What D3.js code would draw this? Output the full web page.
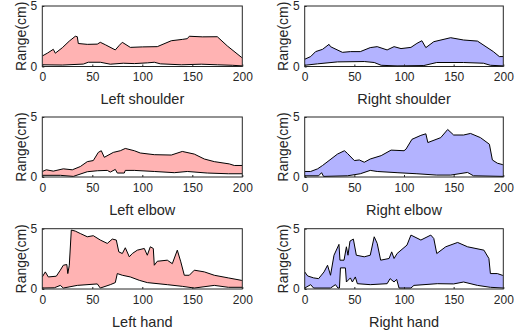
<!DOCTYPE html>
<html>
<head>
<meta charset="utf-8">
<script src="https://cdn.jsdelivr.net/npm/d3@7"></script>
<style>
  html, body { margin: 0; padding: 0; background: #fff; }
  svg { display: block; font-family: "Liberation Sans", Arial, sans-serif; }
</style>
</head>
<body>
<svg id="chart" width="527" height="334"></svg>
<script>
// ---- Data (x = sample index 0..200, y = range in cm) ----
const panelTitles = ["Left shoulder", "Right shoulder", "Left elbow", "Right elbow", "Left hand", "Right hand"];
const xTicks = [0, 50, 100, 150, 200];
const yTicks = [0, 5];

const leftShoulderUpper = [[0,0.87],[5,1.1],[11,1.42],[13,1.1],[20,1.55],[27,2.1],[33,2.5],[35,2.46],[36,1.9],[45,1.83],[55,1.85],[58,2.0],[63,1.8],[73,1.37],[77,1.75],[80,2.0],[88,1.58],[100,1.62],[115,1.64],[129,2.13],[140,2.24],[145,2.3],[147,2.5],[160,2.45],[175,2.46],[185,1.7],[199,0.77],[200,0.7]];
const leftShoulderLower = [[0,0.14],[20,0.12],[41,0.2],[46,0.35],[58,0.35],[68,0.19],[81,0.27],[92,0.24],[105,0.3],[112,0.35],[118,0.22],[139,0.14],[159,0.19],[175,0.14],[190,0.1],[200,0.05]];

const rightShoulderUpper = [[0,0.6],[6,0.82],[11,1.23],[18,1.42],[24.5,1.83],[26,1.64],[29.5,1.5],[38,1.17],[46,1.23],[56,1.23],[66,1.56],[73,1.64],[83,1.37],[90,1.64],[97,1.48],[107,1.58],[113,1.91],[118,2.13],[122,1.56],[130,2.05],[147,2.38],[160,2.19],[174,2.1],[190,1.23],[196,0.82],[200,0.82]];
const rightShoulderLower = [[0,0.1],[13,0.22],[33,0.38],[60,0.41],[70,0.33],[77,0.1],[93,0.05],[120,0.08],[133,0.33],[160,0.33],[180,0.27],[187,0.1],[200,0.05]];

const leftElbowUpper = [[0,0.46],[4,0.6],[11,0.49],[21,0.68],[30,0.6],[38,0.87],[45,1.28],[51,1.37],[56,2.05],[59,2.19],[62,1.64],[71,2.05],[78,2.19],[83,2.38],[92,2.19],[98,2.0],[112,1.86],[129,1.83],[140,2.13],[152,1.91],[162,1.5],[172,1.28],[187,1.09],[192,0.96],[200,0.96]];
const leftElbowLower = [[0,0.14],[18,0.14],[31,0.05],[45,0.44],[55,0.52],[65,0.55],[68,0.41],[73,0.63],[75,0.33],[82,0.33],[83,0.55],[92,0.55],[112,0.46],[132,0.36],[145,0.46],[165,0.33],[186,0.27],[200,0.27]];

const rightElbowUpper = [[0,0.46],[6,0.46],[13,0.68],[18,0.96],[24.5,1.37],[33,1.91],[40,2.19],[43,1.97],[50,1.37],[55,1.42],[60,1.23],[66,1.5],[77,1.78],[87,2.24],[100,2.19],[102,2.32],[108,3.14],[117,3.47],[122,3.6],[124,2.87],[137,3.28],[144,3.96],[150,3.5],[160,3.5],[167,3.63],[177,3.28],[186,2.73],[189,1.42],[194,1.15],[199,1.04],[200,1.0]];
const rightElbowLower = [[0,0.1],[14,0.1],[17,0.36],[19,0.05],[43,0.1],[56,0.27],[66,0.55],[73,0.46],[93,0.36],[113,0.27],[133,0.16],[147,0.16],[164,0.38],[170,0.1],[200,0.05]];

const leftHandUpper = [[0,1.0],[3,1.42],[6,1.0],[14,1.06],[18,1.56],[21,1.97],[24.5,2.03],[25.5,1.28],[27,1.97],[29,4.89],[33,4.8],[38,4.6],[45,4.33],[51,4.42],[58,4.06],[65,3.78],[70,4.14],[74,4.06],[76.5,3.08],[80,2.94],[83,3.42],[87,2.67],[90,2.94],[95,3.22],[102,3.36],[105,2.8],[108,3.5],[111,3.36],[112,1.97],[115,2.3],[125,2.39],[130,2.1],[135,3.22],[138.5,2.25],[142,1.14],[147,1.14],[152,1.56],[162,1.42],[172,1.14],[186,0.92],[199,0.72],[200,0.7]];
const leftHandLower = [[0,0.08],[12,0.1],[18,0.3],[21,0.08],[35,0.3],[55,0.42],[58,0.08],[68,0.36],[73,0.53],[75,1.28],[80,1.14],[88,1.0],[97,0.72],[105,0.53],[125,0.36],[140,0.22],[152,0.08],[172,0.3],[186,0.14],[200,0.14]];

const rightHandUpper = [[0,1.42],[3,1.08],[9,0.92],[14,0.86],[19.5,1.42],[23,1.97],[26,1.14],[29.5,2.8],[34.5,3.7],[35.5,2.39],[39.6,2.39],[42,3.5],[43.6,2.8],[45.6,3.97],[49,4.14],[52,2.8],[60,2.67],[66,2.8],[70,4.33],[73,3.78],[76.5,2.39],[85,2.53],[87.6,3.08],[90,2.53],[93,2.94],[103,3.64],[107,4.47],[117,4.06],[127,4.47],[130,4.19],[133,2.94],[142,3.5],[154,3.86],[164,3.5],[180.5,3.22],[185.5,2.53],[187,1.28],[194,1.28],[199,1.14],[200,1.1]];
const rightHandLower = [[0,0.08],[6,0.36],[9,0.08],[26,0.08],[31,0.36],[33.5,0.08],[35,0.08],[36,1.75],[41,1.75],[42,0.58],[46,0.92],[48,0.58],[51,1.0],[53,0.44],[66,0.36],[83,0.44],[86,0.86],[90,0.58],[92.6,0.8],[95,0.08],[107,0.08],[110,0.3],[133.5,0.44],[150,0.42],[160,0.58],[174,0.3],[187,0.14],[200,0.08]];

const panelUpper = [leftShoulderUpper, rightShoulderUpper, leftElbowUpper, rightElbowUpper, leftHandUpper, rightHandUpper];
const panelLower = [leftShoulderLower, rightShoulderLower, leftElbowLower, rightElbowLower, leftHandLower, rightHandLower];
const leftColor = "#ffb3b3";
const rightColor = "#b3b3ff";

// ---- Layout ----
const colX = [[42.3, 242.3], [304.7, 503.3]];
const rowY = [[6, 66.5], [117, 177], [228.7, 289]];
const ink = "#262626";

const svg = d3.select("#chart");

panelTitles.forEach((title, i) => {
  const col = i % 2, row = Math.floor(i / 2);
  const [x0, x1] = colX[col];
  const [y0, y1] = rowY[row];
  const x = d3.scaleLinear().domain([0, 200]).range([x0, x1]);
  const y = d3.scaleLinear().domain([0, 5]).range([y1, y0]);
  const g = svg.append("g");

  const upper = panelUpper[i], lower = panelLower[i];
  // merge x positions so area can be defined on a common grid
  const xs = Array.from(new Set(upper.map(d => d[0]).concat(lower.map(d => d[0])))).sort((a, b) => a - b);
  const interp = (pts, xv) => {
    for (let k = 0; k < pts.length - 1; k++) {
      const [xa, ya] = pts[k], [xb, yb] = pts[k + 1];
      if (xv >= xa && xv <= xb) return xb === xa ? ya : ya + (yb - ya) * (xv - xa) / (xb - xa);
    }
    return pts[pts.length - 1][1];
  };
  const band = xs.map(xv => ({ x: xv, lo: interp(lower, xv), hi: interp(upper, xv) }));

  const clipId = "clip" + i;
  g.append("clipPath").attr("id", clipId).append("rect")
    .attr("x", x0).attr("y", y0).attr("width", x1 - x0).attr("height", y1 - y0);

  const plot = g.append("g").attr("clip-path", `url(#${clipId})`);
  plot.append("path")
    .datum(band)
    .attr("fill", col === 0 ? leftColor : rightColor)
    .attr("d", d3.area().x(d => x(d.x)).y0(d => y(d.lo)).y1(d => y(d.hi)));
  const line = d3.line().x(d => x(d[0])).y(d => y(d[1]));
  plot.append("path").datum(upper).attr("fill", "none").attr("stroke", "#000").attr("stroke-width", 1).attr("d", line);
  plot.append("path").datum(lower).attr("fill", "none").attr("stroke", "#000").attr("stroke-width", 1).attr("d", line);

  // box
  g.append("rect").attr("x", x0).attr("y", y0).attr("width", x1 - x0).attr("height", y1 - y0)
    .attr("fill", "none").attr("stroke", ink).attr("stroke-width", 1);

  // axes (ticks inward)
  const xAxis = d3.axisBottom(x).tickValues(xTicks).tickSize(-2).tickPadding(6).tickFormat(d3.format("d"));
  const ax = g.append("g").attr("transform", `translate(0,${y1})`).call(xAxis);
  ax.select(".domain").remove();
  ax.selectAll("line").attr("stroke", ink);
  ax.selectAll("text").attr("fill", ink).attr("font-size", 12).attr("font-family", "Liberation Sans, Arial, sans-serif");

  const yAxis = d3.axisLeft(y).tickValues(yTicks).tickSize(-2).tickPadding(5).tickFormat(d3.format("d"));
  const ay = g.append("g").attr("transform", `translate(${x0},0)`).call(yAxis);
  ay.select(".domain").remove();
  ay.selectAll("line").attr("stroke", ink);
  ay.selectAll("text").attr("fill", ink).attr("font-size", 12).attr("font-family", "Liberation Sans, Arial, sans-serif");

  // labels
  g.append("text").attr("x", (x0 + x1) / 2).attr("y", y1 + 37.8)
    .attr("text-anchor", "middle").attr("font-size", 14.5).attr("fill", ink).text(title);
  g.append("text").attr("transform", `translate(${x0 - 16.3},${(y0 + y1) / 2}) rotate(-90)`)
    .attr("text-anchor", "middle").attr("font-size", 14).attr("fill", ink).text("Range(cm)");
});
</script>
</body>
</html>
